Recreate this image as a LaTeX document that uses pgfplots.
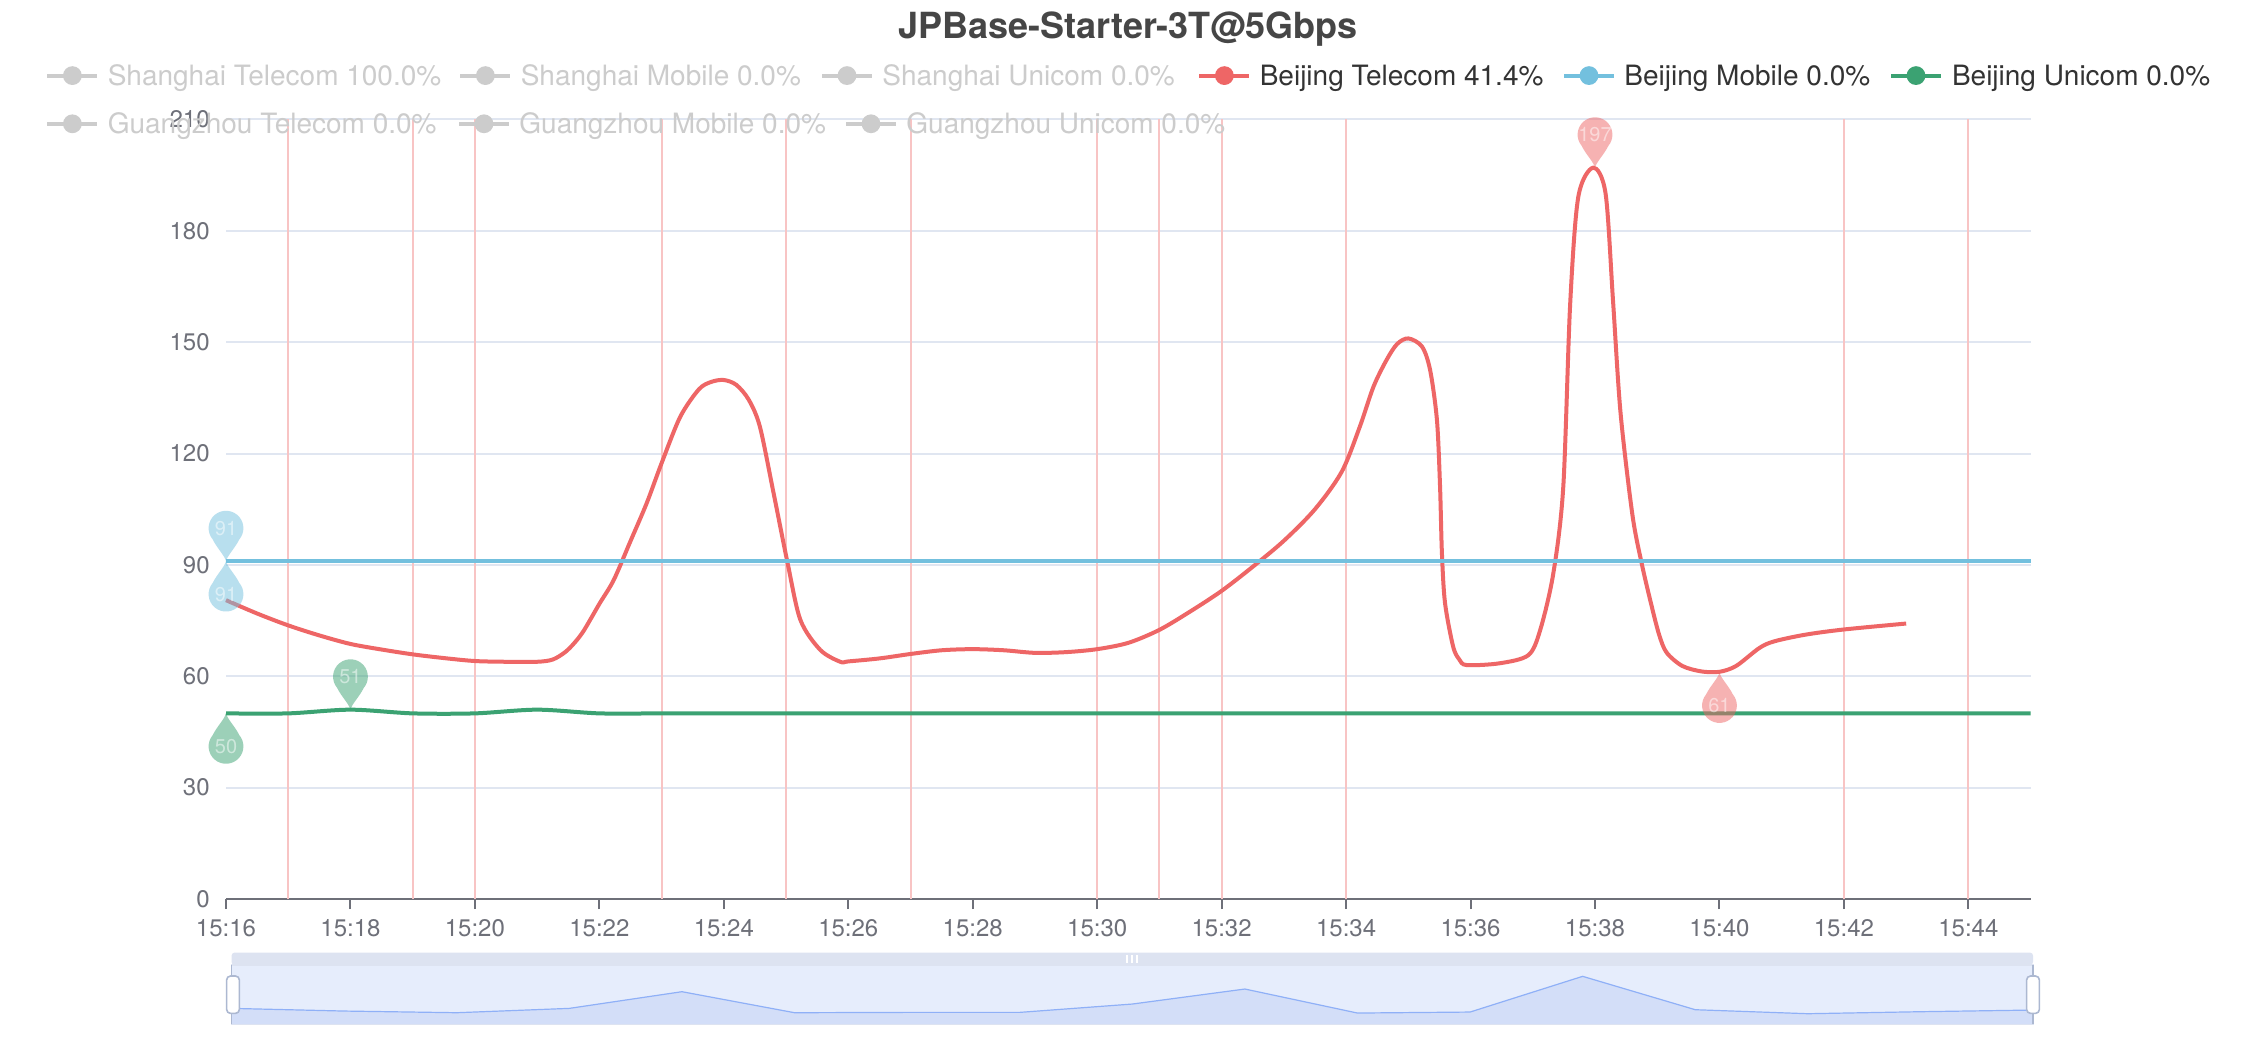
\documentclass[border=0pt]{standalone}
\usepackage{fontspec}
\setmainfont{TeX Gyre Heros}
\usepackage{pgfplots}
\pgfplotsset{compat=1.18}
\definecolor{cRed}{HTML}{EE6666}
\definecolor{cBlue}{HTML}{73C0DE}
\definecolor{cGreen}{HTML}{3BA272}
\definecolor{cGrid}{HTML}{E0E6F1}
\definecolor{cAxis}{HTML}{6E7079}
\definecolor{cTitle}{HTML}{464646}
\definecolor{cLeg}{HTML}{333333}
\definecolor{cOff}{HTML}{CCCCCC}
\definecolor{cVline}{HTML}{F8C4C4}
\definecolor{cSlBand}{HTML}{DDE3F1}
\definecolor{cSlFill}{HTML}{E6EDFC}
\definecolor{cSlArea}{HTML}{D3DEF8}
\definecolor{cSlLine}{HTML}{8FB0F7}
\definecolor{cHandle}{HTML}{ACB8D1}

\pgfdeclareplotmark{pindown}{%
  \pgfpathmoveto{\pgfpoint{0pt}{0pt}}%
  \pgfpathcurveto{\pgfpoint{-0.8pt}{3pt}}{\pgfpoint{-4.5pt}{6.5pt}}{\pgfpoint{-6.66pt}{10.9pt}}%
  \pgfpatharc{220}{-40}{8.7pt}%
  \pgfpathcurveto{\pgfpoint{4.5pt}{6.5pt}}{\pgfpoint{0.8pt}{3pt}}{\pgfpoint{0pt}{0pt}}%
  \pgfpathclose
  \pgfusepathqfill
}
\pgfdeclareplotmark{pinup}{%
  \pgfpathmoveto{\pgfpoint{0pt}{0pt}}%
  \pgfpathcurveto{\pgfpoint{-0.8pt}{-3pt}}{\pgfpoint{-4.5pt}{-6.5pt}}{\pgfpoint{-6.66pt}{-10.9pt}}%
  \pgfpatharc{140}{400}{8.7pt}%
  \pgfpathcurveto{\pgfpoint{4.5pt}{-6.5pt}}{\pgfpoint{0.8pt}{-3pt}}{\pgfpoint{0pt}{0pt}}%
  \pgfpathclose
  \pgfusepathqfill
}

\newcommand{\legitem}[6]{%
  \draw[#3, line width=2pt] (#1pt,#2pt) -- ++(25pt,0pt);
  \fill[#3] (#1pt+12.5pt,#2pt) circle (4.7pt);
  \node[anchor=base west, inner sep=0pt, text=#6, font=\fontsize{14}{14}\selectfont] at (#4pt,#2pt-5pt) {#5};
}

\begin{document}
\begin{tikzpicture}
\fill[white] (0pt,0pt) rectangle (1128pt,520pt);
\path[use as bounding box] (0pt,0pt) rectangle (1128pt,520pt);

% ---------- data zoom slider frame ----------
\fill[cSlFill] (115.8pt,7.8pt) rectangle (1016.5pt,37.5pt);
\fill[cSlBand, rounded corners=1.5pt] (115.8pt,37.5pt) rectangle (1016.5pt,43.7pt);
\foreach \dx in {-2.5,0,2.5} {\fill[white] (566pt+\dx pt-0.6pt,38.6pt) rectangle (566pt+\dx pt+0.6pt,42.6pt);}

\begin{axis}[
  at={(115.8pt,7.8pt)}, anchor=south west,
  scale only axis, width=900.7pt, height=29.7pt,
  xmin=0, xmax=16, ymin=0, ymax=178,
  hide axis,
]
\addplot[draw=none, fill=cSlArea] coordinates {(0,48) (1,40) (2,35) (3,48) (4,98) (5,35) (6,36) (7,36) (8,61) (9,106) (10,34) (11,37) (12,144) (13,44) (14,32) (15,38) (16,43)} \closedcycle;
\addplot[cSlLine, line width=0.6pt] coordinates {(0,48) (1,40) (2,35) (3,48) (4,98) (5,35) (6,36) (7,36) (8,61) (9,106) (10,34) (11,37) (12,144) (13,44) (14,32) (15,38) (16,43)};
\end{axis}
\draw[cSlBand, line width=0.8pt] (115.8pt,7.8pt) rectangle (1016.5pt,37.5pt);
\draw[cHandle, line width=0.8pt] (115.8pt,7.8pt) -- (115.8pt,37.5pt);
\draw[cHandle, line width=0.8pt] (1016.5pt,7.8pt) -- (1016.5pt,37.5pt);
\filldraw[fill=white, draw=cHandle, line width=0.8pt, rounded corners=2pt] (113.3pt,13.3pt) rectangle (119.7pt,32pt);
\filldraw[fill=white, draw=cHandle, line width=0.8pt, rounded corners=2pt] (1013.3pt,13.3pt) rectangle (1019.7pt,32pt);

% ---------- main chart ----------
\begin{axis}[
  at={(113pt,70.5pt)}, anchor=south west,
  scale only axis, width=902.3pt, height=389.8pt,
  xmin=0, xmax=29, ymin=0, ymax=210,
  clip=false,
  axis x line*=bottom, axis y line*=left,
  x axis line style={-, draw=cAxis, line width=1pt},
  y axis line style={draw=none},
  tick align=outside, major tick length=5pt,
  xtick={0,2,...,28},
  xticklabels={15:16,15:18,15:20,15:22,15:24,15:26,15:28,15:30,15:32,15:34,15:36,15:38,15:40,15:42,15:44},
  xtick style={draw=cAxis, line width=1pt},
  ytick={0,30,...,210},
  ytick style={draw=none},
  ymajorgrids, grid style={cGrid, line width=1pt},
  /pgf/number format/assume math mode=true,
  xticklabel style={font=\fontsize{12}{12}\selectfont, text=cAxis, anchor=north, inner sep=0pt, yshift=-5pt},
  yticklabel style={font=\fontsize{12}{12}\selectfont, text=cAxis, anchor=east, inner sep=0pt, xshift=-3pt},
]
% vertical mark lines
\addplot[ycomb, cVline, line width=1pt, mark=none] coordinates {(1,210) (3,210) (4,210) (7,210) (9,210) (11,210) (14,210) (15,210) (16,210) (18,210) (26,210) (28,210)};
% Beijing Telecom
\addplot[cRed, line width=2pt, smooth, tension=0.5] coordinates {
(0,80.5) (0.5,76.9) (1,73.7) (1.5,71) (2,68.7) (2.5,67.2) (3,65.9) (3.5,64.9) (4,64.1) (4.5,63.9) (5,63.9)
(5.25,64.5) (5.45,66.5) (5.6,69) (5.75,72.3) (6,79.5) (6.23,85.9) (6.5,96.4) (6.76,106.6) (7,117.4)
(7.3,129.9) (7.6,137.3) (7.8,139.3) (8,139.8) (8.2,138.5) (8.4,134.5) (8.58,127.2) (8.8,109.3) (9.02,90.9) (9.23,75.2)
(9.55,67.1) (9.87,63.9) (10,64) (10.5,64.8) (11,66) (11.5,67) (12,67.3) (12.5,67) (13,66.3) (13.5,66.5)
(14,67.3) (14.5,69) (15,72.5) (15.5,77.5) (16,83) (16.5,89.5) (17,96.5) (17.5,105) (17.93,115.1)
(18.22,127.2) (18.44,138) (18.65,145.2) (18.82,149.5) (19,151) (19.22,148.8) (19.35,142.5) (19.46,129)
(19.51,111) (19.54,93.1) (19.59,79.7) (19.72,68) (19.82,64.5) (19.94,63) (20.47,63.5) (20.93,65.7)
(21.12,72.5) (21.33,87.7) (21.49,111) (21.6,160) (21.73,189) (21.97,197) (22.17,190) (22.29,161)
(22.41,131) (22.6,103.6) (22.75,90.4) (22.9,79.6) (23.03,71.2) (23.15,66.4) (23.4,62.8) (23.71,61.3)
(24,61.2) (24.27,62.8) (24.64,67.6) (24.88,69.4) (25.38,71.2) (26,72.6) (27,74.2)};
% Beijing Mobile
\addplot[cBlue, line width=2pt] coordinates {(0,91) (1,91) (2,91) (3,91) (4,91) (5,91) (6,91) (7,91) (8,91) (9,91) (10,91) (11,91) (12,91) (13,91) (14,91) (15,91) (16,91) (17,91) (18,91) (19,91) (20,91) (21,91) (22,91) (23,91) (24,91) (25,91) (26,91) (27,91) (28,91) (29,91)};
% Beijing Unicom
\addplot[cGreen, line width=2pt, smooth, tension=0.5] coordinates {(0,50) (1,50) (2,51) (3,50) (4,50) (5,51) (6,50) (7,50) (8,50) (9,50) (10,50) (11,50) (12,50) (13,50) (14,50) (15,50) (16,50) (17,50) (18,50) (19,50) (20,50) (21,50) (22,50) (23,50) (24,50) (25,50) (26,50) (27,50) (28,50) (29,50)};
% pins
\pgfplotsset{pinlab/.style={point meta=explicit symbolic, nodes near coords,
  every node near coord/.append style={anchor=center, inner sep=0pt, text=white, font=\fontsize{10}{10}\selectfont, yshift=#1}}}
\addplot[only marks, mark=pindown, mark options={draw=none, fill=cBlue, fill opacity=0.5}, pinlab=16.5pt] coordinates {(0,91) [91]};
\addplot[only marks, mark=pinup, mark options={draw=none, fill=cBlue, fill opacity=0.5}, pinlab=-16.5pt] coordinates {(0,91) [91]};
\addplot[only marks, mark=pindown, mark options={draw=none, fill=cGreen, fill opacity=0.5}, pinlab=16.5pt] coordinates {(2,51) [51]};
\addplot[only marks, mark=pinup, mark options={draw=none, fill=cGreen, fill opacity=0.5}, pinlab=-16.5pt] coordinates {(0,50) [50]};
\addplot[only marks, mark=pindown, mark options={draw=none, fill=cRed, fill opacity=0.5}, pinlab=16.5pt] coordinates {(22,197) [197]};
\addplot[only marks, mark=pinup, mark options={draw=none, fill=cRed, fill opacity=0.5}, pinlab=-16.5pt] coordinates {(24,61) [61]};
\end{axis}

% ---------- title ----------
\node[anchor=base, inner sep=0pt, text=cTitle, font=\bfseries\fontsize{18}{18}\selectfont] at (564pt,500.5pt) {JPBase-Starter-3T@5Gbps};

% ---------- legend ----------
\legitem{23.7}{482.2}{cOff}{53.7}{Shanghai Telecom 100.0\%}{cOff}
\legitem{230.2}{482.2}{cOff}{260.2}{Shanghai Mobile 0.0\%}{cOff}
\legitem{411}{482.2}{cOff}{441}{Shanghai Unicom 0.0\%}{cOff}
\legitem{599.7}{482.2}{cRed}{629.7}{Beijing Telecom 41.4\%}{cLeg}
\legitem{782}{482.2}{cBlue}{812}{Beijing Mobile 0.0\%}{cLeg}
\legitem{945.5}{482.2}{cGreen}{975.8}{Beijing Unicom 0.0\%}{cLeg}
\legitem{23.7}{458.1}{cOff}{53.7}{Guangzhou Telecom 0.0\%}{cOff}
\legitem{229.5}{458.1}{cOff}{259.5}{Guangzhou Mobile 0.0\%}{cOff}
\legitem{423}{458.1}{cOff}{453}{Guangzhou Unicom 0.0\%}{cOff}
\end{tikzpicture}
\end{document}
